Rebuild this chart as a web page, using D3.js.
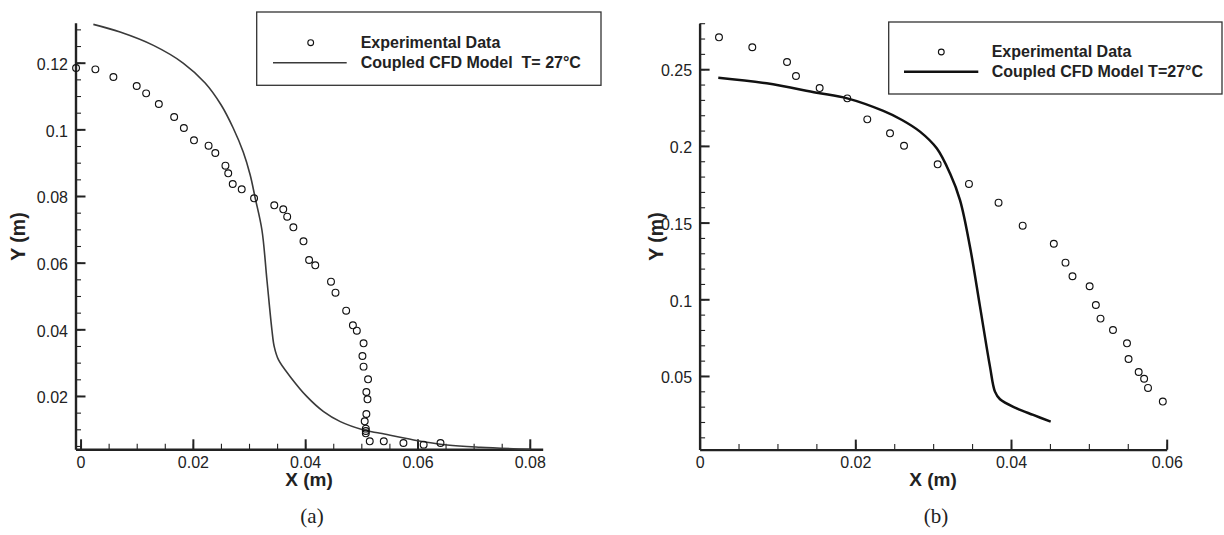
<!DOCTYPE html>
<html><head><meta charset="utf-8">
<script src="https://cdn.jsdelivr.net/npm/d3@7"></script>
<style>body{margin:0;background:#fff} svg{display:block}</style>
</head><body><svg id="c" width="1224" height="535"></svg>
<script>
// ---------- Panel (a) data ----------
const expAX = [-0.0008,0.00264,0.00585,0.0100,0.01168,0.01394,0.01667,0.0184,0.0202,0.0228,0.0240,0.0258,0.0263,0.0271,0.0287,0.0309,0.0345,0.0361,0.0368,0.0379,0.0397,0.0407,0.0418,0.0446,0.0454,0.0473,0.0485,0.0492,0.0504,0.0502,0.0504,0.0512,0.0509,0.0511,0.0509,0.0506,0.0508,0.0508,0.0508,0.0515,0.0540,0.0575,0.0611,0.0641];
const expAY = [0.1184,0.1180,0.1157,0.1130,0.1108,0.1076,0.1037,0.1004,0.0967,0.0951,0.0929,0.0891,0.0868,0.0836,0.0820,0.0793,0.0772,0.0760,0.0738,0.0706,0.0664,0.0608,0.0592,0.0543,0.0510,0.0456,0.0412,0.0396,0.0358,0.0320,0.0288,0.0250,0.0212,0.0190,0.0146,0.0124,0.0102,0.0095,0.0088,0.0064,0.0064,0.0059,0.0054,0.0059];
const modelAX = [0.00228,0.00704,0.01298,0.01827,0.02219,0.02504,0.02718,0.02897,0.03021,0.03110,0.03230,0.03319,0.03408,0.03449,0.03526,0.03734,0.04032,0.04328,0.04626,0.05041,0.05339,0.05932,0.06528,0.07121,0.08012];
const modelAY = [0.1315,0.1292,0.1252,0.1199,0.1139,0.1073,0.1004,0.0932,0.0863,0.0794,0.0698,0.0548,0.0398,0.0348,0.0308,0.0258,0.0198,0.0153,0.0123,0.0098,0.0088,0.0068,0.0053,0.0046,0.0040];
const ticksAX = [0,0.02,0.04,0.06,0.08];
const labelsAX = ["0","0.02","0.04","0.06","0.08"];
const ticksAY = [0.02,0.04,0.06,0.08,0.1,0.12];
const labelsAY = ["0.02","0.04","0.06","0.08","0.1","0.12"];
const legendA = ["Experimental Data","Coupled CFD Model  T= 27\u00B0C"];

// ---------- Panel (b) data ----------
const expBX = [0.00249,0.00677,0.01123,0.01238,0.01542,0.01897,0.02154,0.02446,0.02626,0.03058,0.0346,0.0384,0.0415,0.0455,0.0470,0.0479,0.0501,0.0509,0.0515,0.0531,0.0549,0.0551,0.0564,0.0571,0.0576,0.0595];
const expBY = [0.2708,0.2643,0.2547,0.2456,0.2377,0.2310,0.2173,0.2082,0.2001,0.1880,0.1752,0.1630,0.1480,0.1362,0.1239,0.1150,0.1085,0.0963,0.0874,0.0800,0.0713,0.0611,0.0526,0.0482,0.0422,0.0333];
const modelBX = [0.00240,0.00862,0.01504,0.01897,0.02360,0.02600,0.02831,0.03046,0.03216,0.03345,0.03473,0.03602,0.03730,0.03794,0.03859,0.04073,0.04286,0.04510];
const modelBY = [0.2445,0.2408,0.2347,0.2310,0.2228,0.2169,0.2093,0.1984,0.1821,0.1647,0.1343,0.0952,0.0561,0.0398,0.0348,0.0289,0.0246,0.0202];
const ticksBX = [0,0.02,0.04,0.06];
const labelsBX = ["0","0.02","0.04","0.06"];
const ticksBY = [0.05,0.1,0.15,0.2,0.25];
const labelsBY = ["0.05","0.1","0.15","0.2","0.25"];
const legendB = ["Experimental Data","Coupled CFD Model T=27\u00B0C"];

const svg = d3.select("#c");
const SANS = "'Liberation Sans', Arial, Helvetica, sans-serif";

function drawPanel(o) {
  const x = d3.scaleLinear().domain(o.xDomain).range(o.xRange);
  const y = d3.scaleLinear().domain(o.yDomain).range(o.yRange);
  const g = svg.append("g");
  const xMinor = d3.range(o.xMinorStart, o.xDomain[1] + 1e-9, o.xMinorStep);
  const yMinor = d3.range(o.yMinorStart, o.yDomain[1] + 1e-9, o.yMinorStep);

  // minor ticks
  g.append("g").attr("transform", `translate(0,${o.yRange[0]})`)
    .call(d3.axisBottom(x).tickValues(xMinor).tickSize(-5.5).tickFormat(""))
    .call(s => { s.select(".domain").remove(); s.selectAll("line").attr("stroke", "#222").attr("stroke-width", 1.1); });
  g.append("g").attr("transform", `translate(${o.xRange[0]},0)`)
    .call(d3.axisLeft(y).tickValues(yMinor).tickSize(-5.5).tickFormat(""))
    .call(s => { s.select(".domain").remove(); s.selectAll("line").attr("stroke", "#222").attr("stroke-width", 1.1); });

  // major axes
  const xa = g.append("g").attr("transform", `translate(0,${o.yRange[0]})`)
    .call(d3.axisBottom(x).tickValues(o.xTicks).tickFormat((d, i) => o.xLabels[i])
      .tickSize(-10).tickSizeOuter(0).tickPadding(7.4));
  const ya = g.append("g").attr("transform", `translate(${o.xRange[0]},0)`)
    .call(d3.axisLeft(y).tickValues(o.yTicks).tickFormat((d, i) => o.yLabels[i])
      .tickSize(-10).tickSizeOuter(0).tickPadding(7.5));
  [xa, ya].forEach(a => {
    a.select(".domain").attr("stroke", "#222").attr("stroke-width", 2.4);
    a.selectAll(".tick line").attr("stroke", "#222").attr("stroke-width", 2);
    a.selectAll("text").attr("font-family", SANS).attr("font-size", 16).attr("fill", "#222");
  });
  ya.selectAll("text").attr("dy", "0.42em");

  // model line
  const mdata = o.mx.map((v, i) => [v, o.my[i]]);
  g.append("path").datum(mdata)
    .attr("d", d3.line().x(d => x(d[0])).y(d => y(d[1])).curve(d3.curveCatmullRom.alpha(0.5)))
    .attr("fill", "none").attr("stroke", o.lineColor).attr("stroke-width", o.lineWidth)
    .attr("stroke-linejoin", "round");

  // experimental points
  const edata = o.ex.map((v, i) => [v, o.ey[i]]);
  g.append("g").selectAll("circle").data(edata).join("circle")
    .attr("cx", d => x(d[0])).attr("cy", d => y(d[1])).attr("r", 3.4)
    .attr("fill", "none").attr("stroke", "#111").attr("stroke-width", 1.15);

  // axis titles
  g.append("text").attr("x", o.xTitle[0]).attr("y", o.xTitle[1])
    .attr("text-anchor", "middle").attr("font-family", SANS).attr("font-weight", "bold")
    .attr("font-size", 19).attr("fill", "#222").text("X (m)");
  g.append("text").attr("transform", `translate(${o.yTitle[0]},${o.yTitle[1]}) rotate(-90)`)
    .attr("text-anchor", "middle").attr("font-family", SANS).attr("font-weight", "bold")
    .attr("font-size", 19.5).attr("fill", "#222").text("Y (m)");

  // legend
  const L = o.legend;
  g.append("rect").attr("x", L.x0).attr("y", L.y0).attr("width", L.x1 - L.x0).attr("height", L.y1 - L.y0)
    .attr("fill", "#fff").attr("stroke", "#333").attr("stroke-width", 1.3);
  g.append("circle").attr("cx", L.cx).attr("cy", L.cy).attr("r", 2.9)
    .attr("fill", "none").attr("stroke", "#111").attr("stroke-width", 1.1);
  g.append("line").attr("x1", L.lx0).attr("x2", L.lx1).attr("y1", L.ly).attr("y2", L.ly)
    .attr("stroke", o.lineColor).attr("stroke-width", o.lineWidth);
  o.legendText.forEach((t, i) => {
    g.append("text").attr("x", L.tx).attr("y", L.ty[i]).attr("font-family", SANS)
      .attr("font-weight", "bold").attr("font-size", 16).attr("fill", "#222")
      .style("white-space", "pre").attr("xml:space", "preserve").text(t);
  });

  // caption
  g.append("text").attr("x", o.caption[0]).attr("y", o.caption[1]).attr("text-anchor", "middle")
    .attr("font-family", "'Liberation Serif', 'DejaVu Serif', serif").attr("font-size", 21)
    .attr("fill", "#222").text(o.caption[2]);
}

drawPanel({
  xDomain: [-0.0009, 0.0823], xRange: [75.5, 542.7],
  yDomain: [0.004, 0.132], yRange: [449.3, 22.7],
  xMinorStart: 0, xMinorStep: 0.005, yMinorStart: 0.005, yMinorStep: 0.005,
  xTicks: ticksAX, xLabels: labelsAX, yTicks: ticksAY, yLabels: labelsAY,
  mx: modelAX, my: modelAY, ex: expAX, ey: expAY,
  lineColor: "#3a3a3a", lineWidth: 1.6,
  xTitle: [309, 486], yTitle: [25, 236.5],
  legend: { x0: 256.7, x1: 601, y0: 12, y1: 85.3, cx: 310.7, cy: 42.7, lx0: 273, lx1: 346.7, ly: 62.7, tx: 360.7, ty: [48.3, 68.3] },
  legendText: legendA,
  caption: [312, 523, "(a)"]
});

drawPanel({
  xDomain: [0, 0.06], xRange: [699.6, 1166.7],
  yDomain: [0.002, 0.28], yRange: [449.6, 23.2],
  xMinorStart: 0, xMinorStep: 0.005, yMinorStart: 0.01, yMinorStep: 0.01,
  xTicks: ticksBX, xLabels: labelsBX, yTicks: ticksBY, yLabels: labelsBY,
  mx: modelBX, my: modelBY, ex: expBX, ey: expBY,
  lineColor: "#111", lineWidth: 2.5,
  xTitle: [933, 486], yTitle: [663.3, 236.5],
  legend: { x0: 888.7, x1: 1222, y0: 22, y1: 94, cx: 941.3, cy: 52, lx0: 904, lx1: 978.3, ly: 71.7, tx: 991.7, ty: [56.7, 76.7] },
  legendText: legendB,
  caption: [936, 523, "(b)"]
});
</script></body></html>
